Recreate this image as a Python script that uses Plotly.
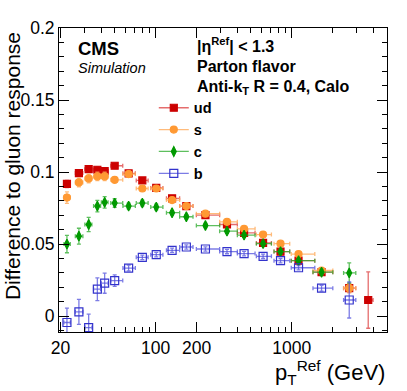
import plotly.graph_objects as go

# pT^Ref bin centres and horizontal bar extents (GeV)
pt = [22.3, 27.3, 32.2, 37.3, 42.2, 50, 63.3, 79.8, 101, 132, 168, 232, 334, 446, 615, 826, 1120, 1653, 2640, 3640]
pt_lo = [21.2, 25.7, 30.2, 35.0, 39.9, 46.8, 57.5, 72, 92, 120, 150, 199, 295, 398, 549, 740, 990, 1430, 2400, 3450]
pt_hi = [23.6, 29.2, 34.0, 39.4, 44.7, 57.3, 70.9, 88, 113, 150, 188, 295, 398, 537, 708, 965, 1475, 2000, 2950, 3950]

# difference to gluon response per flavour
ud = [0.0918, 0.0993, 0.102, 0.1016, 0.1007, 0.1044, 0.0991, 0.0942, 0.089, 0.0818,
      0.0764, 0.0701, 0.0636, 0.0578, 0.0508, 0.0448, 0.0385, 0.0305, 0.0194, 0.0112]
ud_err = [0.0025, 0.002, 0.002, 0.002, 0.002, 0.0015, 0.0015, 0.0015, 0.0015, 0.0015,
          0.0015, 0.0015, 0.0015, 0.0015, 0.0015, 0.0015, 0.0015, 0.002, 0.003, 0.0196]

s = [0.0823, 0.0928, 0.0956, 0.097, 0.097, 0.0946, 0.0986, 0.0886, 0.0886, 0.0806,
     0.0764, 0.0711, 0.0655, 0.0606, 0.0566, 0.0503, 0.0431, 0.0317, 0.0194]
s_err = [0.004, 0.003, 0.003, 0.003, 0.003, 0.002, 0.002, 0.0015, 0.0015, 0.0015,
         0.0015, 0.0015, 0.0015, 0.0015, 0.0015, 0.0015, 0.0015, 0.002, 0.003]

c = [0.050, 0.0555, 0.0636, 0.0764, 0.079, 0.0785, 0.0764, 0.0785, 0.0757, 0.0718,
     0.069, 0.0629, 0.059, 0.0562, 0.0503, 0.0448, 0.0385, 0.0305, 0.030]
c_err = [0.006, 0.0055, 0.005, 0.004, 0.004, 0.003, 0.002, 0.002, 0.002, 0.0015,
         0.0015, 0.0015, 0.0015, 0.0015, 0.0015, 0.0015, 0.0015, 0.002, 0.007]

b = [-0.0044, 0.003, -0.0079, 0.0187, 0.0229, 0.0247, 0.0334, 0.0408, 0.0427, 0.0457,
     0.048, 0.0466, 0.0448, 0.0434, 0.0415, 0.0385, 0.0336, 0.0194, 0.0112]
b_err = [0.01, 0.0087, 0.0093, 0.0079, 0.007, 0.004, 0.002, 0.0015, 0.0015, 0.0015,
         0.0015, 0.0015, 0.0015, 0.0015, 0.0015, 0.0015, 0.0015, 0.002, 0.0125]

series = [
    ("ud", ud, ud_err, "#cc0000", "rgba(220,60,60,0.75)", "square", 7),
    ("s", s, s_err, "#ff9933", "rgba(255,170,90,0.8)", "circle", 7),
    ("c", c, c_err, "#009900", "rgba(40,170,40,0.75)", "diamond-tall", 7),
    ("b", b, b_err, "#3333cc", "rgba(80,80,220,0.75)", "square-open", 8),
]

FONT = "Liberation Sans, Arial, sans-serif"

fig = go.Figure()
for name, vals, errs, col, ecol, sym, size in series:
    n = len(vals)
    xs = pt[:n]
    plus = [h - p for h, p in zip(pt_hi[:n], xs)]
    minus = [p - l for p, l in zip(xs, pt_lo[:n])]
    mk = dict(symbol=sym, size=size, color=col, line=dict(color=col, width=1.2))
    fig.add_trace(go.Scatter(
        x=xs, y=vals, mode="markers", marker=mk, showlegend=False,
        error_x=dict(type="data", symmetric=False, array=plus, arrayminus=minus,
                     color=ecol, thickness=1.3, width=2),
        error_y=dict(type="data", array=errs, color=ecol, thickness=1.3, width=2),
    ))
    # legend entry drawn like ROOT's "lep" option
    fig.add_trace(go.Scatter(x=[None], y=[None], mode="lines+markers", name=name,
                             marker=mk, line=dict(color=ecol, width=1.3)))

texts = [
    (0.052, 0.934, "<b>CMS</b>", 18.5),
    (0.052, 0.868, "<i>Simulation</i>", 14.5),
    (0.415, 0.944, "<b>|η<sup>Ref</sup>| < 1.3</b>", 16),
    (0.415, 0.875, "<b>Parton flavor</b>", 16),
    (0.415, 0.803, "<b>Anti-k<sub>T</sub> R = 0.4, Calo</b>", 16),
]
for x, y, t, fs in texts:
    fig.add_annotation(x=x, y=y, xref="paper", yref="paper", text=t, showarrow=False,
                       xanchor="left", yanchor="middle", font=dict(size=fs, family=FONT, color="black"))

fig.add_annotation(x=-0.143, y=0.546, xref="paper", yref="paper", text="Difference to gluon response",
                   textangle=-90, showarrow=False, xanchor="center", yanchor="middle",
                   font=dict(size=21, family=FONT, color="black"))
fig.add_annotation(x=1.0, y=-0.132, xref="paper", yref="paper", text="p<sub>T</sub><sup>Ref</sup> (GeV)",
                   showarrow=False, xanchor="right", yanchor="middle",
                   font=dict(size=22, family=FONT, color="black"))

minor_x = [30, 40, 50, 60, 70, 80, 90, 300, 400, 500, 600, 700, 800, 900, 2000, 3000, 4000, 5000]
fig.update_xaxes(type="log", range=[1.290, 3.699], showgrid=False, zeroline=False,
                 showline=True, linecolor="black", linewidth=1, mirror="ticks",
                 ticks="inside", ticklen=10, tickcolor="black",
                 tickvals=[20, 100, 200, 1000], ticktext=["20", "100", "200", "1000"],
                 tickfont=dict(size=17.5, family=FONT, color="black"),
                 minor=dict(ticks="inside", ticklen=5, tickcolor="black", tickvals=minor_x))
fig.update_yaxes(range=[-0.011, 0.2], showgrid=False, zeroline=False,
                 showline=True, linecolor="black", linewidth=1, mirror="ticks",
                 ticks="inside", ticklen=10, tickcolor="black",
                 tickvals=[0, 0.05, 0.1, 0.15, 0.2], ticktext=["0", "0.05", "0.1", "0.15", "0.2"],
                 tickfont=dict(size=17.5, family=FONT, color="black"),
                 minor=dict(ticks="inside", ticklen=5, tickcolor="black", dtick=0.01))

fig.update_layout(
    width=407, height=391, margin=dict(l=59, r=20, t=28, b=59),
    paper_bgcolor="white", plot_bgcolor="white",
    legend=dict(x=0.289, y=0.79, xanchor="left", yanchor="top", bgcolor="rgba(0,0,0,0)",
                font=dict(size=14.5, family=FONT, color="black", weight="bold"),
                itemwidth=30, tracegroupgap=0),
)

# drop the browser's default 8px body margin so the figure sits at the page corner
fig.write_html("out.html", config={"displayModeBar": False},
               post_script="document.body.style.margin='0px';")
